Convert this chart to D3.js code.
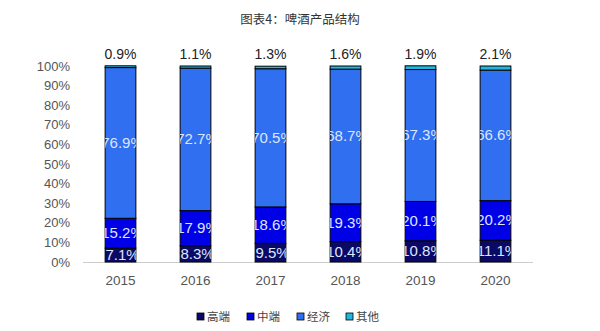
<!DOCTYPE html>
<html><head><meta charset="utf-8">
<script src="https://cdn.jsdelivr.net/npm/d3@7"></script>
<style>body{margin:0;background:#fff;}svg{display:block;}</style>
</head><body>
<svg id="c" width="600" height="331"></svg>
<script>
const years = ["2015","2016","2017","2018","2019","2020"];
const seriesNames = ["高端","中端","经济","其他"];
const high = [7.1, 8.3, 9.5, 10.4, 10.8, 11.1];
const mid = [15.2, 17.9, 18.6, 19.3, 20.1, 20.2];
const economy = [76.9, 72.7, 70.5, 68.7, 67.3, 66.6];
const other = [0.9, 1.1, 1.3, 1.6, 1.9, 2.1];
const yTicks = [0,10,20,30,40,50,60,70,80,90,100];

const colors = ["#0a0a66", "#0000e6", "#2f6ff0", "#22b5dd"];
const svg = d3.select("#c");
const x = d3.scaleBand().domain(years).range([83, 533]).paddingInner(0.59).paddingOuter(0.295);
const y = d3.scaleLinear().domain([0, 100]).range([262, 66]);

const rows = years.map((yr, i) => ({year: yr, "高端": high[i], "中端": mid[i], "经济": economy[i], "其他": other[i]}));
const stack = d3.stack().keys(seriesNames)(rows);

svg.append("text").attr("x", 300).attr("y", 24).attr("text-anchor", "middle")
  .attr("font-family", "Noto Sans CJK SC").attr("font-size", 12.5).attr("fill", "#333")
  .text("图表4：啤酒产品结构");

// y axis labels
svg.append("g").selectAll("text").data(yTicks).join("text")
  .attr("x", 70).attr("y", d => y(d) + 4.5).attr("text-anchor", "end")
  .attr("font-family", "Liberation Sans, Arial, sans-serif").attr("font-size", 13).attr("fill", "#555")
  .text(d => d + "%");

// baseline
svg.append("line").attr("x1", 83).attr("x2", 533).attr("y1", 262.5).attr("y2", 262.5)
  .attr("stroke", "#ccc").attr("stroke-width", 1);

const defs = svg.append("defs");
years.forEach((yr, i) => {
  defs.append("clipPath").attr("id", "clip" + i).append("rect")
    .attr("x", x(yr)).attr("y", 0).attr("width", x.bandwidth()).attr("height", 331);
});

stack.forEach((layer, k) => {
  const g = svg.append("g");
  g.selectAll("rect").data(layer).join("rect")
    .attr("x", d => x(d.data.year)).attr("width", x.bandwidth())
    .attr("y", d => y(d[1])).attr("height", d => y(d[0]) - y(d[1]))
    .attr("fill", colors[k]).attr("stroke", "#000").attr("stroke-width", 1);
});

// inside labels for first three series
stack.slice(0, 3).forEach((layer, k) => {
  layer.forEach((d, i) => {
    svg.append("text").attr("clip-path", "url(#clip" + i + ")")
      .attr("x", x(d.data.year) + x.bandwidth() / 2 + 2)
      .attr("y", (y(d[0]) + y(d[1])) / 2 + 5)
      .attr("text-anchor", "middle")
      .attr("font-family", "Liberation Sans, Arial, sans-serif").attr("font-size", 15)
      .attr("fill", "#dde6ff")
      .text(d.data[seriesNames[k]].toFixed(1) + "%");
  });
});

// top labels for 其他
svg.append("g").selectAll("text").data(years).join("text")
  .attr("x", d => x(d) + x.bandwidth() / 2).attr("y", 59).attr("text-anchor", "middle")
  .attr("font-family", "Liberation Sans, Arial, sans-serif").attr("font-size", 14).attr("fill", "#222")
  .text((d, i) => other[i].toFixed(1) + "%");

// x labels
svg.append("g").selectAll("text").data(years).join("text")
  .attr("x", d => x(d) + x.bandwidth() / 2).attr("y", 285).attr("text-anchor", "middle")
  .attr("font-family", "Liberation Sans, Arial, sans-serif").attr("font-size", 13.5).attr("fill", "#555")
  .text(d => d);

// legend
const legX = [197, 247, 297, 346];
const lg = svg.append("g");
seriesNames.forEach((n, k) => {
  lg.append("rect").attr("x", legX[k]).attr("y", 313).attr("width", 7).attr("height", 7)
    .attr("fill", colors[k]).attr("stroke", "#000").attr("stroke-width", 0.8);
  lg.append("text").attr("x", legX[k] + 10).attr("y", 320.5)
    .attr("font-family", "Noto Sans CJK SC").attr("font-size", 11.5).attr("fill", "#444")
    .text(n);
});
</script>
</body></html>
